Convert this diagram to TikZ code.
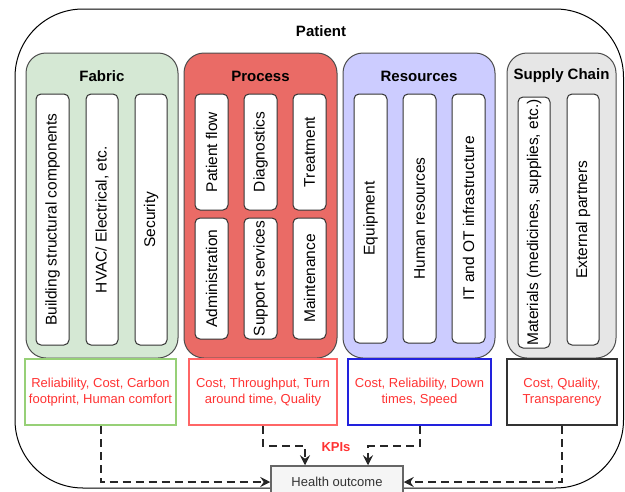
\documentclass[tikz,border=0pt]{standalone}
\usepackage{fontspec}
\setmainfont{Liberation Sans}
\usetikzlibrary{arrows.meta}

\begin{document}
\begin{tikzpicture}[x=1pt,y=-1pt,
  outerbox/.style={draw=black,line width=1pt,rounded corners=68pt,inner sep=0pt},
  group/.style={draw=groupLine,line width=1pt,rounded corners=20pt,inner sep=0pt},
  grouptitle/.style={inner sep=0pt,font=\fontsize{15}{18}\selectfont\bfseries},
  item/.style={draw=itemLine,fill=white,line width=1pt,rounded corners=5pt,rotate=90,inner sep=0pt,font=\fontsize{15.5}{18}\selectfont},
  kpi/.style={line width=2pt,fill=white,inner sep=0pt,align=center,text=kpiText,font=\fontsize{13}{16}\selectfont},
  flow/.style={draw=black!85,line width=2pt,dash pattern=on 8pt off 5pt,-{Stealth[length=10pt,width=10pt,inset=3.5pt]}}]
\definecolor{groupLine}{RGB}{77,77,77}
\definecolor{itemLine}{RGB}{51,51,51}
\definecolor{fabricFill}{RGB}{213,232,212}
\definecolor{processFill}{RGB}{234,107,102}
\definecolor{resourcesFill}{RGB}{204,204,255}
\definecolor{supplyFill}{RGB}{230,230,230}
\definecolor{fabricLine}{RGB}{151,208,119}
\definecolor{processLine}{RGB}{255,102,102}
\definecolor{resourcesLine}{RGB}{34,34,221}
\definecolor{supplyLine}{RGB}{51,51,51}
\definecolor{kpiText}{RGB}{255,51,51}
\definecolor{healthFill}{RGB}{245,245,245}
\definecolor{healthLine}{RGB}{102,102,102}
\definecolor{healthText}{RGB}{51,51,51}
\clip (0,0) rectangle (625,491);

% patient frame
\node[outerbox,minimum width=608.5pt,minimum height=479pt] (patient) at (319.25,248.5) {};
\node[grouptitle] (patienttitle) at (321,31) {Patient};

% the four groups
\node[group,fill=fabricFill,minimum width=152pt,minimum height=305pt] (fabric) at (102,205.5) {};
\node[group,fill=processFill,minimum width=153pt,minimum height=305pt] (process) at (260.5,205.5) {};
\node[group,fill=resourcesFill,minimum width=152pt,minimum height=305pt] (resources) at (419,205.5) {};
\node[group,fill=supplyFill,minimum width=109pt,minimum height=305pt] (supply) at (561.5,205.5) {};

\node[grouptitle] (fabrictitle) at (102,76) {Fabric};
\node[grouptitle] (processtitle) at (260.5,76) {Process};
\node[grouptitle] (resourcestitle) at (419,76) {Resources};
\node[grouptitle] (supplytitle) at (561.5,76) {Supply Chain};

% fabric
\node[item,minimum width=251pt,minimum height=33pt] (building) at (52.5,219.5) {Building structural components};
\node[item,minimum width=251pt,minimum height=32pt] (hvac) at (102,219.5) {HVAC/ Electrical, etc.};
\node[item,minimum width=251pt,minimum height=32pt] (security) at (151,219.5) {Security};

% process
\node[item,minimum width=116pt,minimum height=33pt] (patientflow) at (211.5,152) {Patient flow};
\node[item,minimum width=116pt,minimum height=33pt] (diagnostics) at (260.5,152) {Diagnostics};
\node[item,minimum width=116pt,minimum height=33pt] (treatment) at (309.5,152) {Treatment};
\node[item,minimum width=121pt,minimum height=33pt] (administration) at (211.5,278.5) {Administration};
\node[item,minimum width=121pt,minimum height=33pt] (support) at (260.5,278.5) {Support services};
\node[item,minimum width=121pt,minimum height=33pt] (maintenance) at (309.5,278.5) {Maintenance};

% resources
\node[item,minimum width=249pt,minimum height=33pt] (equipment) at (370.5,218.5) {Equipment};
\node[item,minimum width=249pt,minimum height=33pt] (human) at (419.5,218.5) {Human resources};
\node[item,minimum width=249pt,minimum height=33pt] (itot) at (468.5,218.5) {IT and OT infrastructure};

% supply chain
\node[item,minimum width=251pt,minimum height=32pt] (materials) at (534,222.5) {Materials (medicines, supplies, etc.)};
\node[item,minimum width=251pt,minimum height=32pt] (partners) at (583,219.5) {External partners};

% KPI boxes
\node[kpi,draw=fabricLine,minimum width=151pt,minimum height=66pt] (fabrickpi) at (100.5,392) {Reliability, Cost, Carbon\\footprint, Human comfort};
\node[kpi,draw=processLine,minimum width=148pt,minimum height=66pt] (processkpi) at (263,392) {Cost, Throughput, Turn\\around time, Quality};
\node[kpi,draw=resourcesLine,minimum width=143pt,minimum height=66pt] (resourceskpi) at (419.5,392) {Cost, Reliability, Down\\times, Speed};
\node[kpi,draw=supplyLine,minimum width=110pt,minimum height=66pt] (supplykpi) at (562,392) {Cost, Quality,\\Transparency};

\node[inner sep=0pt,text=kpiText,font=\fontsize{13}{16}\selectfont\bfseries] (kpilabel) at (336,447) {KPIs};

% outcome
\node[draw=healthLine,fill=healthFill,line width=1.5pt,minimum width=132pt,minimum height=32pt,inner sep=0pt,text=healthText,font=\fontsize{13}{16}\selectfont] (health) at (337,482) {Health outcome};

\draw[flow] (fabrickpi.south) |- (health.west);
\draw[flow] (supplykpi.south) |- (health.east);
\draw[flow] (processkpi.south) -- ++(0,20) -| ([xshift=-32pt]health.north);
\draw[flow] (resourceskpi.south) -- ++(0,20) -| ([xshift=31pt]health.north);
\end{tikzpicture}
\end{document}
